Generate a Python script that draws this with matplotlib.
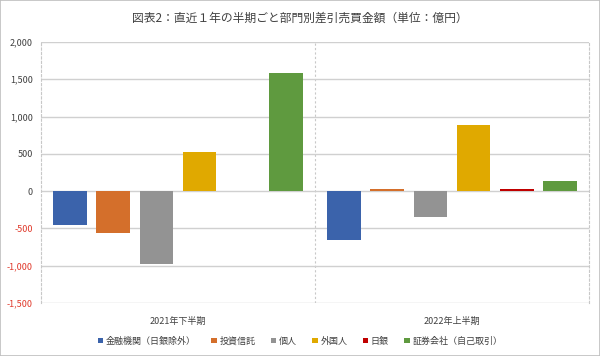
import matplotlib
matplotlib.use("Agg")

import matplotlib.pyplot as plt
import numpy as np
from matplotlib.patches import Rectangle
from matplotlib.ticker import FuncFormatter


plt.rcParams["font.family"] = ["Noto Sans CJK JP", "DejaVu Sans"]


# Data (100 million yen)
periods = ["2021年下半期", "2022年上半期"]
sectors = ["金融機関（日銀除外）", "投資信託", "個人", "外国人", "日銀", "証券会社（自己取引）"]
values = {
    "金融機関（日銀除外）": [-460, -660],
    "投資信託": [-565, 30],
    "個人": [-980, -350],
    "外国人": [525, 890],
    "日銀": [0, 30],
    "証券会社（自己取引）": [1580, 140],
}
colors = ["#3B63AB", "#D46F2B", "#939393", "#E0A900", "#C00000", "#5F9A3F"]

title = "図表2：直近１年の半期ごと部門別差引売買金額（単位：億円）"


fig = plt.figure(figsize=(6, 3.56), dpi=100)
fig.patches.append(Rectangle((0, 0), 1, 1, transform=fig.transFigure,
                             fill=False, edgecolor="#BFBFBF", linewidth=1.2))

ax = fig.add_axes([41 / 600, 1 - 303 / 356, 548 / 600, 261 / 356])

x = np.arange(len(periods))
step = 0.157
width = 0.124

for i, name in enumerate(sectors):
    ax.bar(x + (i - 2.5) * step, values[name], width,
           color=colors[i], label=name, linewidth=0, zorder=3)

ax.set_xlim(-0.5, 1.5)
ax.set_ylim(-1500, 2000)
ax.set_yticks(np.arange(-1500, 2001, 500))
ax.yaxis.set_major_formatter(FuncFormatter(lambda v, p: f"{v:,.0f}"))

ax.set_xticks(x)
ax.set_xticklabels(periods)
ax.tick_params(axis="both", length=0, labelsize=6.5, colors="#404040")
ax.tick_params(axis="x", pad=10)
ax.tick_params(axis="y", pad=6)

# negative values in red
for lbl in ax.get_yticklabels():
    if lbl.get_text().startswith("-") or lbl.get_text().startswith("\u2212"):
        lbl.set_color("#E0392B")

ax.grid(axis="y", color="#D0D0D0", linewidth=1, zorder=0)
ax.axvline(0.5, color="#C8C8C8", linestyle=(0, (2, 2)), linewidth=0.8, zorder=1)

for side in ["top", "bottom"]:
    ax.spines[side].set_visible(False)
for side in ["left", "right"]:
    ax.spines[side].set_color("#C8C8C8")
    ax.spines[side].set_linestyle((0, (2, 2)))
    ax.spines[side].set_linewidth(0.8)

fig.text(0.5, 1 - 18 / 356, title, ha="center", va="center",
         fontsize=8.5, color="#404040")

fig.legend(loc="center", bbox_to_anchor=(0.5, 1 - 341 / 356), ncol=6,
           frameon=False, fontsize=6.5, handlelength=0.6, handleheight=0.6,
           handletextpad=0.3, columnspacing=1.7, labelcolor="#404040")

fig.savefig("out.png", dpi=100)
